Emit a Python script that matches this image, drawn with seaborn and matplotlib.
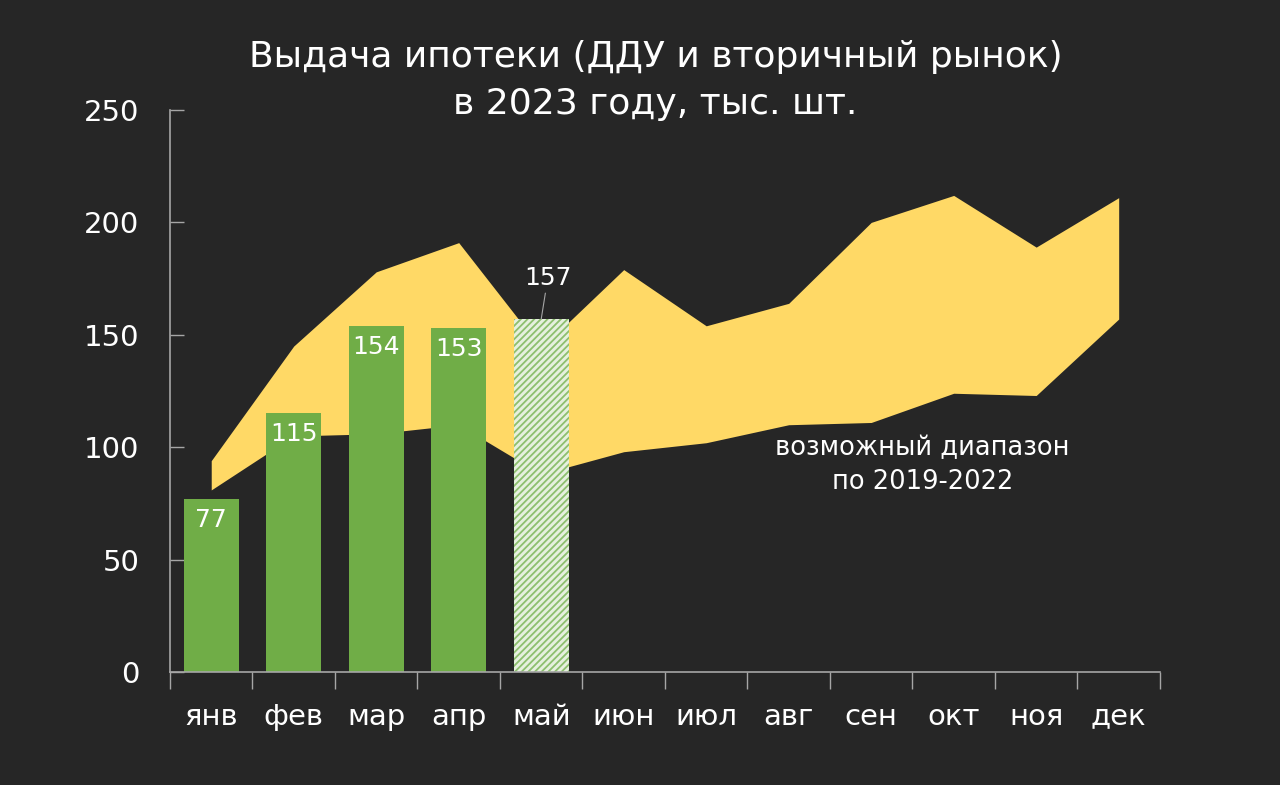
import pandas as pd
import matplotlib
matplotlib.use('Agg')
import matplotlib.pyplot as plt
import seaborn as sns

months = ['янв', 'фев', 'мар', 'апр', 'май', 'июн',
          'июл', 'авг', 'сен', 'окт', 'ноя', 'дек']
issued = [77, 115, 154, 153, 157]          # 2023 выдачи, май - оценка
range_low = [81, 105, 106, 110, 88, 98, 102, 110, 111, 124, 123, 157]
range_high = [94, 145, 178, 191, 144, 179, 154, 164, 200, 212, 189, 211]

BG = '#262626'
GREEN = '#70AD47'
YELLOW = '#FFD966'
AXIS = '#A6A6A6'


def main():
    sns.set_style('dark')
    plt.rcParams['font.family'] = ['DejaVu Sans']
    plt.rcParams['hatch.linewidth'] = 1.3

    fig = plt.figure(figsize=(12.8, 7.85), dpi=100, facecolor=BG)
    ax = fig.add_axes([0.1328, 0.1439, 0.7734, 0.716])
    ax.set_facecolor(BG)

    x = list(range(len(months)))
    ax.fill_between(x, range_low, range_high, color=YELLOW, lw=0, zorder=1)

    df = pd.DataFrame({'month': months[:len(issued)], 'value': issued})
    sns.barplot(data=df, x='month', y='value', order=months, color=GREEN,
                saturation=1, width=0.67, linewidth=0, ax=ax, zorder=2)

    # last bar is an estimate -> hatched
    bars = ax.patches
    may = bars[len(issued) - 1]
    may.set_facecolor('#E6F0DE')
    may.set_edgecolor('#8DBF6E')
    may.set_hatch('/////')
    may.set_linewidth(0)

    for i, v in enumerate(issued[:-1]):
        ax.text(i, v - 4, str(v), ha='center', va='top', color='white',
                fontsize=18, zorder=3)
    i = len(issued) - 1
    ax.annotate(str(issued[-1]), xy=(i, issued[-1]),
                xytext=(i + 0.08, issued[-1] + 13), ha='center',
                va='bottom', color='white', fontsize=18,
                arrowprops=dict(arrowstyle='-', color=AXIS, lw=0.8,
                                shrinkA=0, shrinkB=0))

    ax.text(8.62, 92, 'возможный диапазон\nпо 2019-2022', ha='center',
            va='center', color='white', fontsize=18.5, linespacing=1.4)

    ax.set_xlim(-0.5, 11.5)
    ax.set_ylim(0, 250)
    ax.set_yticks([0, 50, 100, 150, 200, 250])
    ax.set_xticks([k + 0.5 for k in range(-1, 12)])
    ax.set_xticklabels([])
    ax.set_xticks(x, minor=True)
    ax.set_xticklabels(months, minor=True)
    ax.tick_params(axis='x', which='major', direction='out', length=12,
                   width=1, color=AXIS, bottom=True)
    ax.tick_params(axis='x', which='minor', length=0, pad=22,
                   labelsize=21, labelcolor='white', bottom=True)
    ax.tick_params(axis='y', direction='in', length=10, width=1,
                   color=AXIS, labelsize=21, labelcolor='white', pad=22,
                   left=True)
    ax.set_xlabel('')
    ax.set_ylabel('')
    ax.grid(False)
    for side in ['top', 'right']:
        ax.spines[side].set_visible(False)
    for side in ['left', 'bottom']:
        ax.spines[side].set_visible(True)
        ax.spines[side].set_color(AXIS)
        ax.spines[side].set_linewidth(1.2)

    fig.text(0.512, 0.927, 'Выдача ипотеки (ДДУ и вторичный рынок)',
             ha='center', va='center', color='white', fontsize=26)
    fig.text(0.512, 0.868, 'в 2023 году, тыс. шт.', ha='center',
             va='center', color='white', fontsize=26)

    fig.savefig('out.png', dpi=100, facecolor=BG)


if __name__ == '__main__':
    main()
